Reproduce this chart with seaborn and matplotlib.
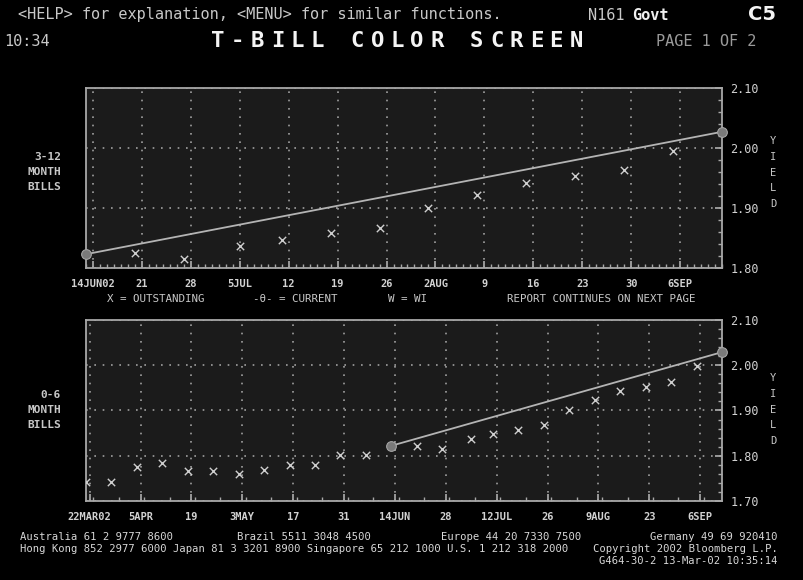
import pandas as pd
import matplotlib
matplotlib.use("Agg")
import matplotlib.pyplot as plt
import matplotlib.dates as mdates
from matplotlib.ticker import MultipleLocator
import seaborn as sns

# ---- data ----
# 3-12 month bills (upper panel)
top_dates = ["2002-06-20", "2002-06-27", "2002-07-05", "2002-07-11", "2002-07-18", "2002-07-25",
             "2002-08-01", "2002-08-08", "2002-08-15", "2002-08-22", "2002-08-29", "2002-09-05"]
top_yields = [1.825, 1.815, 1.837, 1.847, 1.858, 1.867, 1.900, 1.922, 1.942, 1.953, 1.963, 1.995]
top_curve_dates = ["2002-06-13", "2002-09-12"]
top_curve_yields = [1.823, 2.027]
top_tick_dates = ["2002-06-14", "2002-06-21", "2002-06-28", "2002-07-05", "2002-07-12", "2002-07-19",
                  "2002-07-26", "2002-08-02", "2002-08-09", "2002-08-16", "2002-08-23", "2002-08-30",
                  "2002-09-06"]
top_tick_labels = ["14JUN02", "21", "28", "5JUL", "12", "19", "26", "2AUG", "9", "16", "23", "30", "6SEP"]

# 0-6 month bills (lower panel)
bot_dates = ["2002-03-21", "2002-03-28", "2002-04-04", "2002-04-11", "2002-04-18", "2002-04-25",
             "2002-05-02", "2002-05-09", "2002-05-16", "2002-05-23", "2002-05-30", "2002-06-06",
             "2002-06-20", "2002-06-27", "2002-07-05", "2002-07-11", "2002-07-18", "2002-07-25",
             "2002-08-01", "2002-08-08", "2002-08-15", "2002-08-22", "2002-08-29", "2002-09-05"]
bot_yields = [1.742, 1.742, 1.775, 1.784, 1.767, 1.767, 1.760, 1.769, 1.780, 1.780, 1.802, 1.802,
              1.822, 1.816, 1.836, 1.847, 1.857, 1.868, 1.900, 1.924, 1.942, 1.953, 1.964, 1.998]
bot_curve_dates = ["2002-06-13", "2002-09-12"]
bot_curve_yields = [1.822, 2.029]
bot_tick_dates = ["2002-03-22", "2002-04-05", "2002-04-19", "2002-05-03", "2002-05-17", "2002-05-31",
                  "2002-06-14", "2002-06-28", "2002-07-12", "2002-07-26", "2002-08-09", "2002-08-23",
                  "2002-09-06"]
bot_tick_labels = ["22MAR02", "5APR", "19", "3MAY", "17", "31", "14JUN", "28", "12JUL", "26",
                   "9AUG", "23", "6SEP"]

BG = "#000000"
PANEL = "#1b1b1b"
FG = "#d2d2d2"
GRID = "#a0a0a0"

sns.set_theme(style="dark", rc={"axes.facecolor": PANEL, "figure.facecolor": BG})
plt.rcParams["font.family"] = ["DejaVu Sans Mono", "DejaVu Sans"]

fig = plt.figure(figsize=(8.04, 5.80), dpi=100)
W, H = 804, 580


def fx(px):
    return px / W


def fy(py):
    return 1 - py / H


ax1 = fig.add_axes([fx(86), fy(268), fx(636), 180 / H])
ax2 = fig.add_axes([fx(86), fy(501), fx(636), 181 / H])


def draw_panel(ax, dates, yields, cdates, cyields, tdates, tlabels, ylim, xlim, minor_days):
    d = pd.to_datetime(dates)
    sns.scatterplot(x=d, y=yields, ax=ax, marker="x", color="#cfcfcf", s=28, linewidth=1.0,
                    zorder=4)
    sns.lineplot(x=pd.to_datetime(cdates), y=cyields, ax=ax, color="#b4b4b4", lw=1.3,
                 marker="o", markersize=7, markerfacecolor="#7a7a7a", markeredgecolor="#a8a8a8",
                 clip_on=False, zorder=5)
    ax.set_xlim(pd.to_datetime(xlim[0]), pd.to_datetime(xlim[1]))
    ax.set_ylim(*ylim)
    ax.set_xticks(pd.to_datetime(tdates))
    ax.set_xticklabels(tlabels)
    ax.xaxis.set_minor_locator(mdates.DayLocator(interval=minor_days))
    ax.yaxis.set_major_locator(MultipleLocator(0.1))
    ax.yaxis.set_minor_locator(MultipleLocator(0.02))
    ax.yaxis.set_major_formatter(matplotlib.ticker.FormatStrFormatter("%.2f"))
    ax.yaxis.tick_right()
    ax.set_xlabel("")
    ax.set_ylabel("")
    ax.grid(True, which="major", color=GRID, linestyle=(0, (1, 4)), lw=1.2)
    ax.grid(False, which="minor")
    for sp in ax.spines.values():
        sp.set_color("#a8a8a8")
        sp.set_linewidth(1.3)
    ax.tick_params(axis="x", which="both", direction="in", colors="#a8a8a8", bottom=True,
                   top=False, labelcolor=FG, pad=8)
    ax.tick_params(axis="x", which="major", length=5)
    ax.tick_params(axis="x", which="minor", length=3)
    ax.tick_params(axis="y", which="both", direction="in", colors="#a8a8a8", right=True,
                   left=False, labelcolor=FG, pad=6, labelsize=8.5)
    ax.tick_params(axis="y", which="major", length=5)
    ax.tick_params(axis="y", which="minor", length=3)
    for lab in ax.get_xticklabels():
        lab.set_fontsize(7.5)
        lab.set_fontweight("bold")


draw_panel(ax1, top_dates, top_yields, top_curve_dates, top_curve_yields, top_tick_dates,
           top_tick_labels, (1.80, 2.10), ("2002-06-13", "2002-09-12"), 1)
draw_panel(ax2, bot_dates, bot_yields, bot_curve_dates, bot_curve_yields, bot_tick_dates,
           bot_tick_labels, (1.70, 2.10), ("2002-03-21", "2002-09-12"), 7)


def txt(x, y, s, **kw):
    kw.setdefault("color", FG)
    kw.setdefault("va", "center")
    fig.text(fx(x), fy(y), s, **kw)


# header
hdr = dict(fontsize=11, color="#c8c8c8")
txt(18, 15, "<HELP> for explanation, <MENU> for similar functions.", **hdr)
txt(588, 15, "N161", **hdr)
txt(632, 15, "Govt", fontsize=11, fontweight="bold", color="#f0f0f0")
txt(748, 14, "C5", fontsize=14, family="DejaVu Sans", fontweight="bold", color="#f4f4f4")
txt(4, 41, "10:34", **hdr)
title = "T-BILL COLOR SCREEN"
for i, ch in enumerate(title):
    txt(218 + i * 19.9, 41, ch, fontsize=16, fontweight="bold", ha="center", color="#f4f4f4")
txt(656, 41, "PAGE 1 OF 2", fontsize=11, color="#9a9a9a")

# side labels
for lines, ys in ((["3-12", "MONTH", "BILLS"], [157, 172, 187]),
                  (["0-6", "MONTH", "BILLS"], [395, 410, 425])):
    for s, y in zip(lines, ys):
        txt(61, y, s, fontsize=8, ha="right", fontweight="bold", color="#c8c8c8")
for y0 in (141, 378):
    for i, ch in enumerate("YIELD"):
        txt(773, y0 + i * 15.8, ch, fontsize=7.5, ha="center", color="#c8c8c8")

# legend row
lg = dict(fontsize=7.8, color="#c8c8c8")
txt(107, 299, "X = OUTSTANDING", **lg)
txt(253, 299, "-\u03b8- = CURRENT", **lg)
txt(388, 299, "W = WI", **lg)
txt(507, 299, "REPORT CONTINUES ON NEXT PAGE", **lg)

# footer
ff = dict(fontsize=7.6, color="#d8d8d8")
txt(20, 537, "Australia 61 2 9777 8600", **ff)
txt(237, 537, "Brazil 5511 3048 4500", **ff)
txt(441, 537, "Europe 44 20 7330 7500", **ff)
txt(778, 537, "Germany 49 69 920410", ha="right", **ff)
txt(20, 549, "Hong Kong 852 2977 6000 Japan 81 3 3201 8900 Singapore 65 212 1000 U.S. 1 212 318 2000",
    **ff)
txt(778, 549, "Copyright 2002 Bloomberg L.P.", ha="right", **ff)
txt(778, 561, "G464-30-2 13-Mar-02 10:35:14", ha="right", **ff)

fig.savefig("out.png", dpi=100, facecolor=BG)
